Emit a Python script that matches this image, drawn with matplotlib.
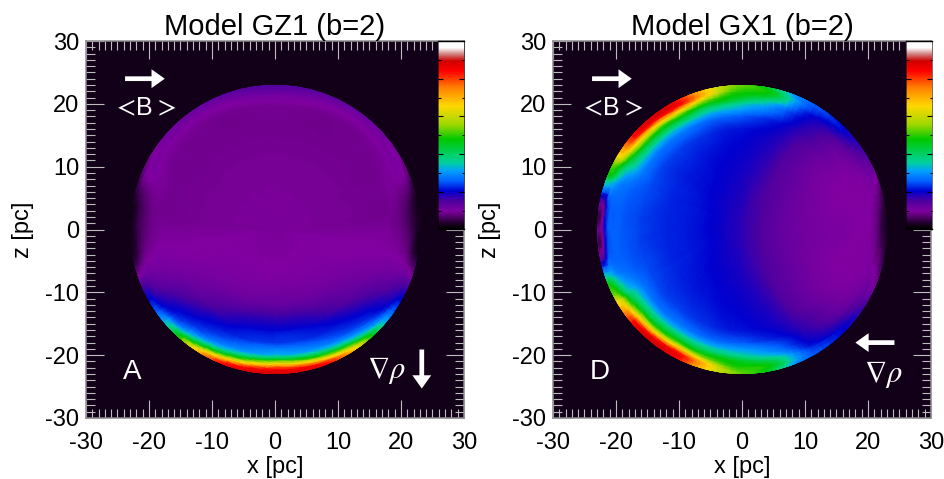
import numpy as np
import matplotlib
matplotlib.use("Agg")
import matplotlib.pyplot as plt
from matplotlib.colors import LinearSegmentedColormap
from matplotlib.patches import Circle
from matplotlib.ticker import MultipleLocator
from matplotlib.tri import Triangulation, UniformTriRefiner

plt.rcParams['font.family'] = ['Liberation Sans', 'DejaVu Sans']
plt.rcParams['mathtext.fontset'] = 'stix'
plt.rcParams['axes.unicode_minus'] = False

RADII = [0, 6, 12, 16, 18, 19, 20, 20.7, 21.3, 21.8, 22.3, 22.8, 23.4]

# GZ1: right half, angle from +x axis (deg); left half is the mirror image
GZ1_ANGLES = [-90, -80, -70, -60, -50, -40, -30, -20, -10, 0, 10, 20, 30, 45, 60, 75, 90]
GZ1_VALUES = [
    [9, 9.5, 12.5, 20, 23, 28, 33, 47, 62, 75, 84, 88, 88],
    [9, 9.5, 12.5, 20, 23, 27, 31, 42, 56, 70, 82, 87, 87],
    [9, 9.5, 12, 19, 22, 25, 29, 36, 47, 60, 75, 84, 84],
    [9, 9.5, 11.5, 17, 21, 23, 26, 31, 39, 50, 62, 72, 72],
    [9, 9.5, 11, 15, 19, 21, 23, 26, 30, 36, 46, 52, 52],
    [9, 9.5, 10.5, 13, 16, 18, 20, 21, 23, 26, 30, 32, 32],
    [9, 9.5, 10, 11.5, 13, 14, 15, 16, 17, 18, 20, 21, 21],
    [9, 9.5, 9.5, 10, 10.5, 11, 11, 11.5, 12, 12, 12, 11, 11],
    [9, 9.5, 9.5, 9.5, 9.5, 9.5, 9, 8.5, 7.5, 6, 4, 3, 2],
    [9, 9, 9, 9, 9, 8.5, 8, 7, 6, 5, 3.5, 2.5, 2],
    [9, 9, 8.8, 8.5, 8.5, 8.5, 8, 7, 6, 5, 3.5, 2.5, 2],
    [9, 9, 8.8, 8.6, 8.6, 9, 9, 9, 9, 8.5, 8, 6, 5],
    [9, 9, 8.8, 8.5, 8.5, 8.7, 9, 9.5, 10, 10, 10, 9, 9],
    [9, 9, 8.8, 8.5, 8.5, 8.5, 8.7, 9, 9.5, 10, 10.5, 11, 11],
    [9, 9, 8.8, 8.5, 8.4, 8.4, 8.5, 9, 9.5, 10, 11, 12, 12],
    [9, 9, 8.8, 8.5, 8.4, 8.5, 8.7, 9.5, 10, 11, 12, 13.5, 13.5],
    [9, 9, 8.8, 8.5, 8.5, 8.7, 9, 10, 10.5, 12, 13, 14, 14],
]

# GX1: upper half, angle from +x axis (deg); lower half is the mirror image
GX1_ANGLES = [0, 15, 30, 45, 60, 70, 80, 90, 100, 110, 120, 130, 140, 150, 155, 160, 170, 180]
GX1_VALUES = [
    [17, 12.5, 10.5, 10, 9.5, 9.5, 9.5, 9, 8, 6, 4, 3, 2],
    [17, 12.8, 10.5, 9.5, 9.5, 9.5, 9.5, 9.5, 9.5, 9, 8, 6, 5],
    [17, 13.3, 11, 10, 10, 10, 10.5, 11, 12, 13, 13, 14, 14],
    [17, 14.2, 12.5, 12, 13, 13, 14, 15, 17, 18, 20, 20, 20],
    [17, 15.2, 14.5, 15.5, 17, 18, 19, 20, 21, 23, 24, 25, 25],
    [17, 16, 17, 18.5, 20.5, 23, 25, 28, 32, 34, 35, 32, 32],
    [17, 17, 18.5, 20, 23, 27, 31, 36, 42, 46, 48, 46, 46],
    [17, 18, 19.5, 21, 25, 30, 35, 42, 46, 48, 50, 52, 52],
    [17, 18.5, 20, 21.5, 25.5, 31, 38, 46, 50, 55, 60, 60, 60],
    [17, 19, 20.5, 22.5, 26, 32, 40, 48, 58, 70, 76, 74, 74],
    [17, 19.3, 21, 23, 27, 33, 43, 52, 65, 78, 86, 86, 86],
    [17, 19.6, 21.3, 23.5, 27, 33, 42, 50, 62, 75, 85, 88, 88],
    [17, 20, 21.6, 23.5, 27, 33, 41, 50, 60, 70, 80, 82, 82],
    [17, 20.2, 22, 24, 27, 31, 36, 40, 47, 54, 60, 62, 62],
    [17, 20.4, 22, 24, 26, 28, 30, 33, 38, 43, 48, 50, 50],
    [17, 20.5, 22, 24, 25, 26, 27, 28, 30, 33, 36, 38, 36],
    [17, 20.5, 22, 23.5, 24.5, 25, 25.5, 25.5, 25, 22, 12, 10, 9],
    [17, 20.5, 22, 23.5, 24.5, 25, 25.5, 25.5, 25, 20, 11, 9, 8],
]

CMAP_STOPS = [
    (0.00, '#000000'), (0.02, '#120018'), (0.05, '#3c0050'), (0.094, '#8000a0'),
    (0.147, '#5000a0'), (0.20, '#0000d0'), (0.253, '#0060ff'), (0.306, '#00a0ff'),
    (0.35, '#00d0a0'), (0.40, '#00d060'), (0.474, '#00c800'), (0.554, '#a0d800'),
    (0.651, '#ffd800'), (0.749, '#ff8000'), (0.837, '#ff0000'), (0.89, '#d00000'),
    (0.926, '#d08080'), (0.96, '#ffffff'), (1.00, '#ffffff'),
]
TICKS = [-30, -20, -10, 0, 10, 20, 30]
TITLES = ['Model GZ1 (b=2)', 'Model GX1 (b=2)']
BG = '#120018'
GRAY = '#bdbdbd'

cmap = LinearSegmentedColormap.from_list('idl', CMAP_STOPS, N=512)
fig = plt.figure(figsize=(9.45, 4.79), dpi=100)
W, H = 945.0, 479.0


def make_panel(left_px, title):
    ax = fig.add_axes([left_px / W, (H - 418) / H, 378 / W, 377 / H], facecolor=BG)
    ax.set_xlim(-30, 30)
    ax.set_ylim(-30, 30)
    ax.set_xticks(TICKS)
    ax.set_yticks(TICKS)
    ax.xaxis.set_minor_locator(MultipleLocator(1))
    ax.yaxis.set_minor_locator(MultipleLocator(1))
    ax.tick_params(which='major', direction='in', top=True, right=True, length=13,
                   width=0.8, color=GRAY, labelsize=17, pad=5, labelcolor='black')
    ax.tick_params(axis='x', which='major', pad=10)
    ax.tick_params(which='minor', direction='in', top=True, right=True, length=6.5,
                   width=0.8, color=GRAY)
    for s in ax.spines.values():
        s.set_color('#8c8c8c')
        s.set_linewidth(1.1)
    ax.set_xlabel('x [pc]', fontsize=17)
    ax.set_ylabel('z [pc]', fontsize=17)
    ax.xaxis.set_label_coords(0.5, -(456 - 418) / 377)
    ax.yaxis.set_label_coords((34 - 86) / 378, 0.5)
    ax.set_title(title, fontsize=21, pad=3)
    return ax


def draw_field(ax, theta_deg, values):
    nth, nr = values.shape
    v, u = np.meshgrid(np.arange(nr), np.arange(nth))
    idx = np.arange(nth * nr).reshape(nth, nr)
    a, b, c, d = idx[:-1, :-1].ravel(), idx[1:, :-1].ravel(), idx[1:, 1:].ravel(), idx[:-1, 1:].ravel()
    triangles = np.vstack([np.c_[a, b, c], np.c_[a, c, d]])
    grid = Triangulation(u.ravel().astype(float), v.ravel().astype(float), triangles)
    fine, field = UniformTriRefiner(grid).refine_field(values.ravel(), subdiv=3)
    th = np.radians(np.interp(fine.x, np.arange(nth), theta_deg))
    r = np.interp(fine.y, np.arange(nr), RADII)
    mesh = Triangulation(r * np.cos(th), r * np.sin(th), fine.triangles)
    art = ax.tripcolor(mesh, np.clip(field, 0, 100), shading='gouraud', cmap=cmap,
                       vmin=0, vmax=100, zorder=1)
    art.set_clip_path(Circle((0, 0), 23.0, transform=ax.transData))


def colorbar(left_px):
    c = fig.add_axes([left_px / W, (H - 229.5) / H, 26 / W, 188.5 / H])
    c.imshow(np.linspace(0, 100, 512)[:, None], origin='lower', aspect='auto',
             cmap=cmap, vmin=0, vmax=100, extent=[0, 1, 0, 100])
    c.set_xticks([])
    c.set_yticks([20, 40, 60, 80])
    c.yaxis.set_minor_locator(MultipleLocator(10))
    c.tick_params(which='major', direction='in', left=True, right=True, length=3.5,
                  width=0.8, color='black', labelleft=False)
    c.tick_params(which='minor', direction='in', left=True, right=True, length=1.8,
                  width=0.8, color='black')
    for name, s in c.spines.items():
        s.set_color('black')
        s.set_linewidth(1.0 if name in ('top', 'bottom') else 0.4)


def b_label(ax):
    ax.text(-24.0, 19.3, r'$<$', color='white', fontsize=20, ha='center', va='center', zorder=6)
    ax.text(-20.8, 19.3, 'B', color='white', fontsize=18, ha='center', va='center', zorder=6)
    ax.text(-17.6, 19.3, r'$>$', color='white', fontsize=20, ha='center', va='center', zorder=6)


def arrow(ax, x, z, dx, dz):
    ax.arrow(x, z, dx, dz, width=0.75, head_width=3.0, head_length=2.1,
             length_includes_head=True, color='white', lw=0, zorder=6)


# Panel A
ax1 = make_panel(86, TITLES[0])
a = np.asarray(GZ1_ANGLES, float)
v = np.asarray(GZ1_VALUES, float)
draw_field(ax1, np.r_[a, 180 - a[-2::-1]], np.vstack([v, v[-2::-1]]))
b_label(ax1)
arrow(ax1, -23.8, 24, 6.3, 0)
arrow(ax1, 23.3, -19.1, 0, -6.2)
ax1.text(17.7, -22.4, r'$\nabla\rho$', color='white', fontsize=22, ha='center', va='center', zorder=6)
ax1.text(-22.6, -22.6, 'A', color='white', fontsize=20, ha='center', va='center', zorder=6)
colorbar(438)

# Panel D
ax2 = make_panel(553, TITLES[1])
a = np.asarray(GX1_ANGLES, float)
v = np.asarray(GX1_VALUES, float)
draw_field(ax2, np.r_[-a[:0:-1], a], np.vstack([v[:0:-1], v]))
b_label(ax2)
arrow(ax2, -23.8, 24, 6.3, 0)
arrow(ax2, 24.2, -18, -6.2, 0)
ax2.text(22.4, -23.1, r'$\nabla\rho$', color='white', fontsize=22, ha='center', va='center', zorder=6)
ax2.text(-22.5, -22.6, 'D', color='white', fontsize=20, ha='center', va='center', zorder=6)
colorbar(906)

fig.savefig('out.png', dpi=100, facecolor='white')
